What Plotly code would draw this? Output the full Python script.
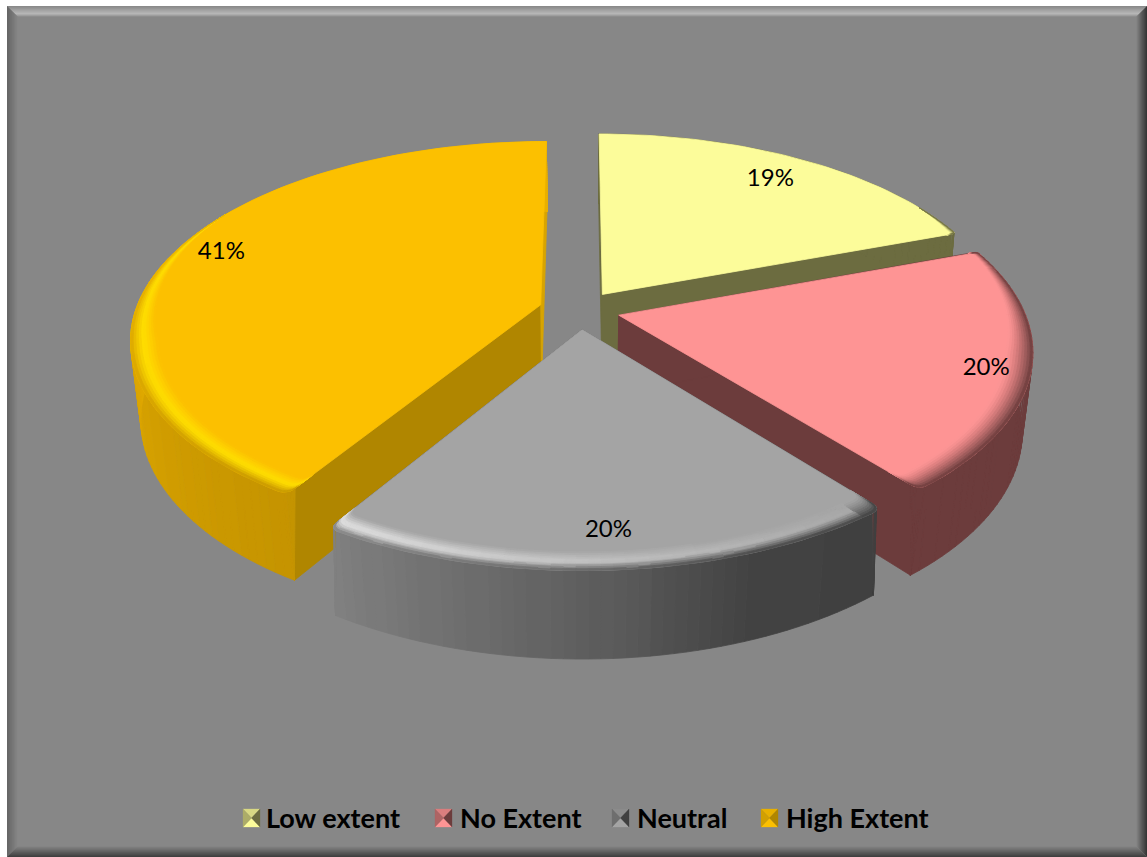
import math
import numpy as np
import plotly.graph_objects as go

# ---- data ----
categories = ["Low extent", "No Extent", "Neutral", "High Extent"]
values = [19.4, 19.8, 19.6, 41.2]

# ---- style ----
top_colors = [(252, 252, 154), (254, 149, 149), (165, 165, 165), (252, 191, 0)]
wall_stops = [
    ([0, 360], [(107, 107, 64), (107, 107, 64)]),
    ([0, 360], [(107, 60, 60), (107, 60, 60)]),
    ([140, 160, 176, 213], [(64, 64, 64), (66, 66, 66), (90, 90, 90), (130, 130, 130)]),
    ([212, 250, 285, 360], [(197, 148, 0), (214, 161, 0), (232, 175, 0), (232, 175, 0)]),
]
radial_start = [(107, 107, 64), (107, 60, 60), (80, 80, 80), (176, 134, 0)]
radial_end = [(107, 107, 64), (107, 60, 60), (80, 80, 80), (216, 164, 0)]
highlight = [None, None, (226, 226, 226), (255, 222, 0)]
highlight_stops = [([0, 360], [0, 0]), ([0, 360], [0, 0]),
                   ([140, 176, 213], [0, 0.45, 1.0]), ([212, 295, 340], [1, 1, 0.6])]
label_pos = [(0.83, 0), (0.895, 5), (0.855, 2), (0.86, -9)]
key_x = [243, 435, 612, 761]
text_x = [266, 460, 637, 786]
BG = "#878787"

# ---- projection of the pie (plane coordinates to page pixels) ----
cx, cy, A, B, k, m, H = 579.5, 310, 405, 192.6, 0.17, 0.023, 80
EXPLODE, BEVEL, CORNER_R, CORNER_A = 0.1, 0.065, 0.028, 0.028


def project(u, v, z=0.0):
    w = 1 + k * v + m * z
    return cx + A * u / w, cy + (-B * v + H * z) / w


def interp_color(deg, stops):
    a, cols = stops
    return tuple(float(np.interp(deg, a, [c[i] for c in cols])) for i in range(3))


def mix(c1, c2, t):
    return tuple(c1[i] + (c2[i] - c1[i]) * t for i in range(3))


def css(c):
    return "rgb(%d,%d,%d)" % tuple(min(255, int(round(x / 2.0) * 2)) for x in c)


def bevel_factor(th):
    return min(1.0, max(0.0, (0.5 - math.cos(th)) / 0.7))


def add_group(fig, polys, width=0.8):
    groups = {}
    for col, pts in polys:
        g = groups.setdefault(col, ([], []))
        g[0].extend([p[0] for p in pts] + [pts[0][0], None])
        g[1].extend([p[1] for p in pts] + [pts[0][1], None])
    for col, (xs, ys) in groups.items():
        fig.add_trace(go.Scatter(x=xs, y=ys, mode="lines", fill="toself", fillcolor=col,
                                 line=dict(color=col, width=width), hoverinfo="skip",
                                 showlegend=False))


fig = go.Figure()

total = sum(values)
fracs = np.cumsum([0] + values) / total * 2 * math.pi
slices = []
for i in range(len(values)):
    t1, t2 = fracs[i], fracs[i + 1]
    mid = (t1 + t2) / 2
    off = (EXPLODE * math.sin(mid), EXPLODE * math.cos(mid))
    d1 = CORNER_A * bevel_factor(t1) ** 0.5
    d2 = CORNER_A * bevel_factor(t2) ** 0.5

    def corner(th_c, th_a):
        # quadratic curve from the straight edge round onto the arc
        f = bevel_factor(th_c) ** 0.5
        p0 = ((1 - CORNER_R * f) * math.sin(th_c), (1 - CORNER_R * f) * math.cos(th_c))
        p1 = (math.sin(th_c), math.cos(th_c))
        p2 = (math.sin(th_a), math.cos(th_a))
        out = []
        for s in np.linspace(0, 1, 7):
            x = (1 - s) ** 2 * p0[0] + 2 * s * (1 - s) * p1[0] + s ** 2 * p2[0]
            y = (1 - s) ** 2 * p0[1] + 2 * s * (1 - s) * p1[1] + s ** 2 * p2[1]
            out.append((x, y))
        return out

    n = max(8, int((t2 - t1) / math.radians(1.5)))
    arc = [(math.sin(a), math.cos(a)) for a in np.linspace(t1 + d1, t2 - d2, n)]
    c1 = corner(t1, t1 + d1)
    c2 = corner(t2, t2 - d2)[::-1]
    rim = c1 + arc[1:-1] + c2
    # the lower edge keeps the true, sharp corners of the slice
    s1 = (math.sin(t1), math.cos(t1))
    s2 = (math.sin(t2), math.cos(t2))
    low = [s1] * (len(c1) - 1) + [c1[-1]] + arc[1:-1] + [c2[0]] + [s2] * (len(c2) - 1)
    apex = (off[0], off[1])
    rim_abs = [(off[0] + p[0], off[1] + p[1]) for p in rim]
    low_abs = [(off[0] + p[0], off[1] + p[1]) for p in low]

    def quad(a, b, la, lb):
        return [project(a[0], a[1], 0), project(b[0], b[1], 0),
                project(lb[0], lb[1], 1), project(la[0], la[1], 1)]

    walls = [(css(radial_start[i]), quad(apex, rim_abs[0], apex, low_abs[0])),
             (css(radial_end[i]), quad(apex, rim_abs[-1], apex, low_abs[-1]))]
    for j in range(len(rim) - 1):
        pa, pb = rim[j], rim[j + 1]
        deg = math.degrees(math.atan2((pa[0] + pb[0]) / 2, (pa[1] + pb[1]) / 2)) % 360
        walls.append((css(interp_color(deg, wall_stops[i])),
                      quad(rim_abs[j], rim_abs[j + 1], low_abs[j], low_abs[j + 1])))

    top = [(css(top_colors[i]), [project(*apex)] + [project(*p) for p in rim_abs])]

    bevel = []
    rings = np.linspace(0, 1, 11)
    for r0, r1 in zip(rings[:-1], rings[1:]):
        tm = (r0 + r1) / 2
        for pa, pb in zip(rim[:-1], rim[1:]):
            tha = math.atan2(pa[0], pa[1])
            thb = math.atan2(pb[0], pb[1])
            fa, fb = bevel_factor(tha), bevel_factor(thb)
            if fa + fb == 0:
                continue
            deg = math.degrees(math.atan2((pa[0] + pb[0]) / 2, (pa[1] + pb[1]) / 2)) % 360
            edge = interp_color(deg, wall_stops[i])
            base = top_colors[i]
            amt = float(np.interp(deg, *highlight_stops[i]))
            peak = mix(base, highlight[i], amt) if highlight[i] else base
            if highlight[i] and amt > 0.05:
                col = mix(base, peak, tm / 0.5) if tm < 0.5 else mix(peak, edge, ((tm - 0.5) / 0.5) ** 1.3)
            else:
                col = mix(base, edge, tm ** 1.5)

            def inset(p, f, r):
                s = 1 - BEVEL * f * (1 - r)
                return project(off[0] + p[0] * s, off[1] + p[1] * s)

            bevel.append((css(col), [inset(pa, fa, r0), inset(pb, fb, r0),
                                     inset(pb, fb, r1), inset(pa, fa, r1)]))
    slices.append((walls, top, bevel))

for i in [0, 3, 1, 2]:  # painted back to front
    for layer in slices[i]:
        add_group(fig, layer)

# percentage labels
for i, val in enumerate(values):
    mid = (fracs[i] + fracs[i + 1]) / 2
    r, dy = label_pos[i]
    u = (EXPLODE + r) * math.sin(mid)
    v = (EXPLODE + r) * math.cos(mid)
    x, y = project(u, v)
    fig.add_trace(go.Scatter(x=[x], y=[y + dy], mode="text", text=["%d%%" % round(val)],
                             textposition="middle center",
                             textfont=dict(family="Lato", size=24, color="black"),
                             hoverinfo="skip", showlegend=False))

# hand-built legend (bevelled keys sit tight against the bold text)
KEY_W, KEY_Y0, KEY_Y1, LEG_Y = 17, 809, 827, 821
for i, name in enumerate(categories):
    x0, x1 = key_x[i], key_x[i] + KEY_W
    xc, yc = (x0 + x1) / 2, (KEY_Y0 + KEY_Y1) / 2
    base = top_colors[i]
    dark = (176, 134, 0) if i == 3 else ((64, 64, 64) if i == 2 else radial_end[i])
    tris = [
        (css(mix(base, dark, 0.25)), [(x0, KEY_Y0), (x1, KEY_Y0), (xc, yc)]),
        (css(base), [(x0, KEY_Y1), (x1, KEY_Y1), (xc, yc)]),
        (css(mix(base, dark, 0.55)), [(x0, KEY_Y0), (x0, KEY_Y1), (xc, yc)]),
        (css(dark), [(x1, KEY_Y0), (x1, KEY_Y1), (xc, yc)]),
    ]
    add_group(fig, tris, width=0.3)
    fig.add_trace(go.Scatter(x=[text_x[i]], y=[LEG_Y], mode="text", text=["<b>%s</b>" % name],
                             textposition="middle right", name=name,
                             textfont=dict(family="Lato", size=27, color="black"),
                             hoverinfo="skip", showlegend=False))

# bevelled frame
shapes = [dict(type="rect", x0=7, y0=6, x1=1147, y1=857, fillcolor=BG, line_width=0, layer="below")]


def band(c0, c1, steps, side):
    out = []
    L, T, R, Bm, W = 7, 6, 1147, 857, 11
    for j in range(steps):
        a, b = W * j / steps, W * (j + 1) / steps
        col = css(mix(c0, c1, (j + 0.5) / steps)) if not callable(c0) else css(c0((j + 0.5) / steps))
        if side == "t":
            p = f"M{L+a},{T+a} L{R-a},{T+a} L{R-b},{T+b} L{L+b},{T+b} Z"
        elif side == "b":
            p = f"M{L+a},{Bm-a} L{R-a},{Bm-a} L{R-b},{Bm-b} L{L+b},{Bm-b} Z"
        elif side == "l":
            p = f"M{L+a},{T+a} L{L+a},{Bm-a} L{L+b},{Bm-b} L{L+b},{T+b} Z"
        else:
            p = f"M{R-a},{T+a} L{R-a},{Bm-a} L{R-b},{Bm-b} L{R-b},{T+b} Z"
        out.append(dict(type="path", path=p, fillcolor=col, line_width=0, layer="below"))
    return out


bg = (135, 135, 135)
shapes += band(lambda s: mix((135, 135, 135), (184, 184, 184), s / 0.7) if s < 0.7 else mix((184, 184, 184), bg, (s - 0.7) / 0.3), None, 11, "t")
shapes += band((100, 100, 100), bg, 11, "l")
shapes += band((50, 50, 50), bg, 11, "r")
shapes += band((60, 60, 60), bg, 11, "b")

fig.update_layout(
    width=1147, height=857, autosize=False,
    margin=dict(l=0, r=0, t=0, b=0),
    paper_bgcolor="white", plot_bgcolor="rgba(0,0,0,0)",
    xaxis=dict(range=[0, 1147], visible=False, fixedrange=True),
    yaxis=dict(range=[857, 0], visible=False, fixedrange=True),
    shapes=shapes, showlegend=False,
)
fig.write_html("out.html", post_script="document.body.style.margin='0';document.body.style.overflow='hidden';",
               config={"displayModeBar": False})
